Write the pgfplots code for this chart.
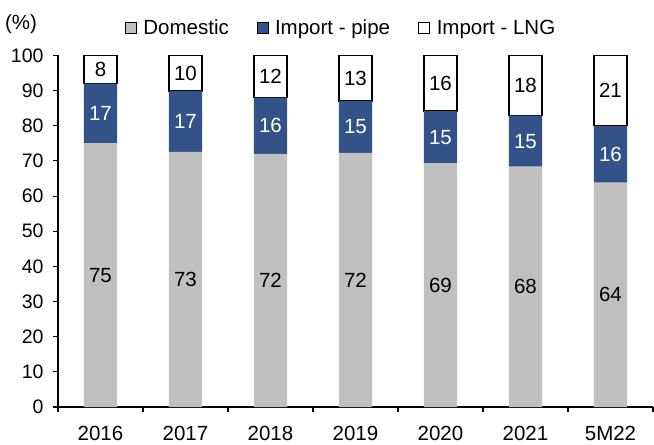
\documentclass[border=0pt]{standalone}
\usepackage{pgfplots}
\pgfplotsset{compat=1.18}
\usepackage{pgfplotstable}
\usepackage{fontspec}
\setmainfont{Liberation Sans}
\definecolor{dom}{RGB}{192,192,192}
\definecolor{pipe}{RGB}{50,82,136}

\pgfplotstableread{
x dom domlab pipe pipelab lng lnglab
0 75.0 75 17.0 17 8.0 8
1 72.6 73 17.3 17 10.1 10
2 72.0 72 16.0 16 12.0 12
3 72.3 72 14.8 15 12.9 13
4 69.3 69 14.9 15 15.8 16
5 68.4 68 14.5 15 17.1 18
6 63.8 64 16.2 16 20.0 21
}\data

\begin{document}
\begin{tikzpicture}[font=\fontsize{20.5bp}{24bp}\selectfont]
\begin{axis}[
  at={(0,0)}, anchor=south west,
  x=85bp, y=3.515bp,
  xmin=-0.5, xmax=6.5, ymin=0, ymax=100,
  axis lines*=left,
  axis line style={black, line width=1.1bp},
  ybar stacked, bar width=0.39,
  xtick={-0.5,0.5,...,6.5}, xticklabels={},
  extra x ticks={0,1,2,3,4,5,6},
  extra x tick labels={2016,2017,2018,2019,2020,2021,5M22},
  extra x tick style={major tick length=0pt},
  ytick={0,10,...,100},
  tick align=outside, major tick length=5bp,
  tick style={black, line width=1.1bp},
  /pgf/number format/assume math mode=true,
  yticklabel style={xshift=-6bp, font=\fontsize{19.5bp}{23bp}\selectfont},
  xticklabel style={yshift=-15.5bp},
  point meta=explicit symbolic,
  nodes near coords,
  every node near coord/.style={anchor=center, inner sep=0pt},
  legend style={at={(axis description cs:0.1126,1.078)}, anchor=west,
    draw=none, fill=none, legend columns=-1, inner sep=0pt,
    /tikz/every even column/.append style={column sep=26bp}},
  legend image code/.code={\draw[#1] (0bp,-5.5bp) rectangle (11bp,5.5bp); \path[draw=none, fill=none] (0bp,0bp) -- (16bp,0bp);},
  clip=false,
]
\addplot[fill=dom, draw=none] table[x=x, y=dom, meta=domlab] {\data};
\addplot[fill=pipe, draw=none, every node near coord/.append style={text=white}] table[x=x, y=pipe, meta=pipelab] {\data};
\addplot[fill=white, draw=black, line width=1.4bp] table[x=x, y=lng, meta=lnglab] {\data};
\legend{Domestic, Import - pipe, Import - LNG}
\end{axis}
\node at (-37bp,383bp) {(\%)};
\pgfresetboundingbox
\path[use as bounding box] (-58bp,-38bp) rectangle (596bp,407bp);
\end{tikzpicture}
\end{document}
